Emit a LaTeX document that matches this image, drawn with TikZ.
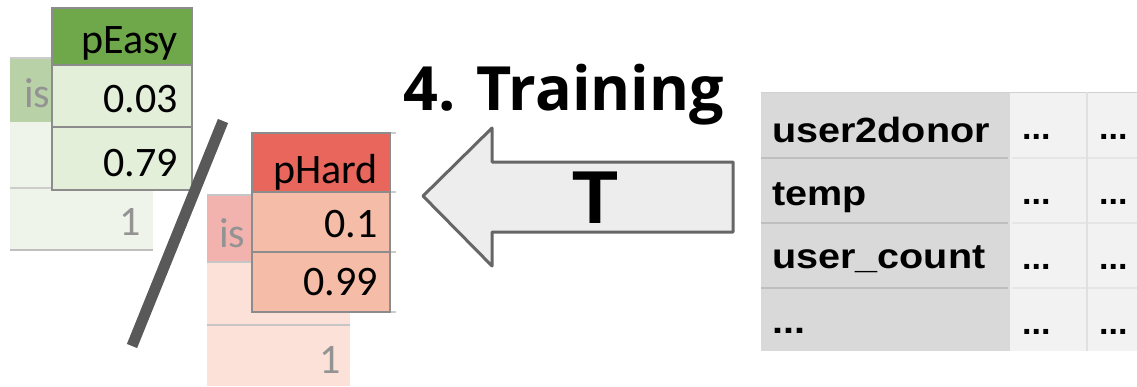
\documentclass[tikz,border=0pt]{standalone}
\usepackage{fontspec}
\newfontfamily\calfont{Carlito}
\newfontfamily\osfont{Open Sans}
\newfontfamily\arfont{Liberation Sans}
\definecolor{ghead}{HTML}{6FA84A}
\definecolor{gcell}{HTML}{E3EFD9}
\definecolor{gbgis}{HTML}{B9D1A6}
\definecolor{gbg}{HTML}{EFF4EA}
\definecolor{rhead}{HTML}{E8665B}
\definecolor{rcell}{HTML}{F5BDA7}
\definecolor{rbgis}{HTML}{F2B3AE}
\definecolor{rbg}{HTML}{FBE1D8}
\definecolor{gridgray}{HTML}{8C8C8C}
\definecolor{slashgray}{HTML}{595959}
\definecolor{colone}{HTML}{D9D9D9}
\definecolor{coltwo}{HTML}{F2F2F2}
\tikzset{
  cellbox/.style={draw=gridgray, line width=2pt},
  celltxt/.style={anchor=base east, inner sep=0pt, font=\calfont\fontsize{42}{44}\selectfont},
  fadetxt/.style={celltxt, text=gray!85},
  rtxt/.style={anchor=base west, inner sep=0pt, font=\arfont\bfseries\fontsize{35}{40}\selectfont},
  dottxt/.style={anchor=base west, inner sep=0pt, font=\arfont\bfseries\fontsize{34}{36}\selectfont},
}
\begin{document}
\begin{tikzpicture}[x=1pt,y=-1pt]
\useasboundingbox[fill=white] (0,0) rectangle (1137,386);

% ---------- green background table ----------
\fill[gbgis] (10,58) rectangle (52,122);
\fill[gbg] (10,122) rectangle (153,250);
\draw[gray!40, line width=1.5pt] (10,58) -- (52,58);
\draw[gray!40, line width=1.5pt] (10,188) -- (52,188);
\draw[gray!50, line width=1.5pt] (10,250) -- (153,250);
\node[fadetxt, anchor=base west] (gis) at (24,107) {is};
\node[fadetxt] (gone) at (141,235) {1};

% ---------- green table ----------
\path[fill=ghead] (52,8) rectangle (192,65);
\path[fill=gcell] (52,65) rectangle (192,190);
\draw[cellbox] (52,8) rectangle (192,190);
\draw[cellbox] (52,65) -- (192,65);
\draw[cellbox] (52,127) -- (192,127);
\node[celltxt] (peasy) at (178,53) {pEasy};
\node[celltxt] (g1) at (178,112) {0.03};
\node[celltxt] (g2) at (178,176) {0.79};

% ---------- red background table ----------
\fill[rbgis] (207,195) rectangle (252,262);
\fill[rbg] (207,262) rectangle (350,386);
\draw[gray!45, line width=1.5pt] (207,195) -- (252,195);
\draw[gray!45, line width=1.5pt] (207,262) -- (252,262);
\draw[gray!45, line width=1.5pt] (207,325) -- (350,325);
\draw[gray!40, line width=1.5pt] (390,133) -- (396,133) (390,192) -- (396,192) (390,252) -- (396,252) (390,312) -- (396,312);
\node[fadetxt, anchor=base west] (ris) at (219,247) {is};
\node[fadetxt] (rone) at (341,373) {1};

% ---------- red table ----------
\path[fill=rhead] (252,133) rectangle (390,192);
\path[fill=rcell] (252,192) rectangle (390,312);
\draw[cellbox] (252,133) rectangle (390,312);
\draw[cellbox] (252,192) -- (390,192);
\draw[cellbox] (252,252) -- (390,252);
\node[celltxt] (phard) at (378,183) {pHard};
\node[celltxt] (r1) at (378,237) {0.1};
\node[celltxt] (r2) at (378,295) {0.99};

% ---------- slash ----------
\coordinate (s1) at (223,121);
\coordinate (s2) at (132,346);
\draw[slashgray, line width=11pt] (s1) -- (s2);

% ---------- title ----------
\node[anchor=base west, inner sep=0pt, font=\osfont\bfseries\fontsize{61}{68}\selectfont] (title) at (403,110) {4. Training};

% ---------- arrow ----------
\draw[fill=black!7, draw=black!60, line width=3pt, line join=round]
  (423,196) -- (492,128) -- (492,162) -- (733,162) -- (733,232) -- (492,232) -- (492,266) -- cycle;
\node[anchor=base, inner sep=0pt, font=\arfont\bfseries\fontsize{75}{80}\selectfont] (tlab) at (595,223) {T};

% ---------- right table ----------
\fill[colone] (761,92) rectangle (1010,351);
\fill[coltwo] (1010,92) rectangle (1137,351);
\draw[black!18, line width=1pt] (761,92) -- (1137,92);
\draw[black!25, line width=2pt] (761,158) -- (1008,158) (761,223) -- (1008,223) (761,288) -- (1008,288);
\draw[black!10, line width=2pt] (1012,158) -- (1137,158) (1012,223) -- (1137,223) (1012,288) -- (1137,288);
\draw[black!12, line width=2pt] (1087,92) -- (1087,351);
\node[rtxt] (u2d) at (772,142) {\scalebox{1.13}[1]{user2donor}};
\node[rtxt] (tmp) at (772,205) {\scalebox{1.13}[1]{temp}};
\node[rtxt] (uc) at (772,268) {\scalebox{1.13}[1]{user\_count}};
\node[rtxt] (ell) at (772,333) {\scalebox{1.13}[1]{...}};
\foreach \y/\n in {139/a,204/b,269/c,334/d}{
  \node[dottxt] (d2\n) at (1022,\y) {...};
  \node[dottxt] (d3\n) at (1099,\y) {...};
}
\end{tikzpicture}
\end{document}
